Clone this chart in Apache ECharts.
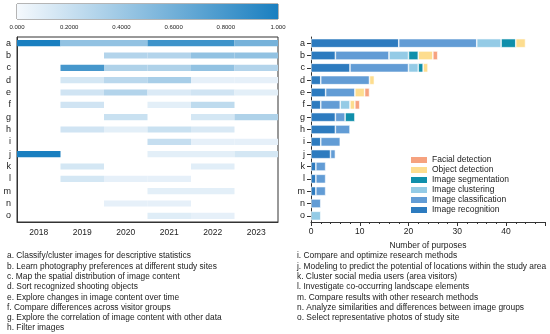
<!DOCTYPE html>
<html><head><meta charset="utf-8">
<script src="https://cdn.jsdelivr.net/npm/echarts@6/dist/echarts.min.js"></script>
<style>html,body{margin:0;padding:0;background:#fff}#c{width:550px;height:334px}</style>
</head><body><div id="c"></div>
<script>
const years = ['2018','2019','2020','2021','2022','2023'];
const purposes = ['a','b','c','d','e','f','g','h','i','j','k','l','m','n','o'];
const colorbarTicks = [0, 0.2, 0.4, 0.6, 0.8, 1];
// heatmap share per purpose (rows) per year (cols); null = none
const heat_a = [1.00, 0.45, 0.45, 0.84, 0.84, 0.58];
const heat_b = [null, null, 0.30, 0.30, 0.45, 0.45];
const heat_c = [null, 0.80, 0.32, 0.32, 0.45, 0.30];
const heat_d = [null, 0.15, 0.27, 0.35, 0.07, 0.07];
const heat_e = [null, 0.17, 0.30, 0.12, 0.17, 0.08];
const heat_f = [null, 0.17, null, 0.08, 0.25, null];
const heat_g = [null, null, 0.20, null, 0.15, 0.32];
const heat_h = [null, 0.17, 0.08, 0.20, 0.13, null];
const heat_i = [null, null, null, 0.22, 0.07, 0.07];
const heat_j = [1.00, null, null, 0.08, 0.08, 0.15];
const heat_k = [null, 0.15, null, null, 0.09, null];
const heat_l = [null, 0.15, 0.07, 0.07, null, null];
const heat_m = [null, null, null, 0.08, 0.08, null];
const heat_n = [null, null, 0.07, 0.07, null, null];
const heat_o = [null, null, null, 0.10, 0.07, null];
const heatRows = [heat_a, heat_b, heat_c, heat_d, heat_e, heat_f, heat_g, heat_h, heat_i, heat_j, heat_k, heat_l, heat_m, heat_n, heat_o];

// counts per purpose a..o
const recognition    = [18, 5, 8, 2, 3, 2, 5, 5, 2, 4, 1, 1, 1, 0, 0];
const classification = [16, 11, 12, 10, 6, 4, 2, 3, 4, 1, 2, 2, 2, 2, 0];
const clustering     = [5, 4, 2, 0, 0, 2, 0, 0, 0, 0, 0, 0, 0, 0, 2];
const segmentation   = [3, 2, 1, 0, 0, 0, 2, 0, 0, 0, 0, 0, 0, 0, 0];
const objectDet      = [2, 3, 1, 1, 2, 1, 0, 0, 0, 0, 0, 0, 0, 0, 0];
const facialDet      = [0, 1, 0, 0, 1, 1, 0, 0, 0, 0, 0, 0, 0, 0, 0];
const seriesNames = ['Image recognition','Image classification','Image clustering','Image segmentation','Object detection','Facial detection'];
const seriesColors = ['#2d7bbf','#629cd5','#94cbe6','#0f8fab','#fddd8f','#f6a27f'];

const defsLeft = [
 'a. Classify/cluster images for descriptive statistics',
 'b. Learn photography preferences at different study sites',
 'c. Map the spatial distribution of image content',
 'd. Sort recognized shooting objects',
 'e. Explore changes in image content over time',
 'f. Compare differences across visitor groups',
 'g. Explore the correlation of image content with other data',
 'h. Filter images'];
const defsRight = [
 'i. Compare and optimize research methods',
 'j. Modeling to predict the potential of locations within the study area',
 'k. Cluster social media users (area visitors)',
 'l. Investigate co-occurring landscape elements',
 'm. Compare results with other research methods',
 'n. Analyze similarities and differences between image groups',
 'o. Select representative photos of study site'];

const FONT = 'Liberation Sans';
const TXT = '#222';
const LOW = '#f5f9fd', HIGH = '#1a7fc0';

const heatData = [];
heatRows.forEach((row, r) => row.forEach((v, c) => { if (v !== null) heatData.push([c, r, v]); }));

const countSeries = [recognition, classification, clustering, segmentation, objectDet, facialDet];

const chart = echarts.init(document.getElementById('c'), null, {renderer: 'canvas'});

const graphics = [];
defsLeft.forEach((t, i) => graphics.push({type:'text', left: 7, top: 252 + i*10.3, style:{text:t, font:'8.4px ' + FONT, fill: TXT}}));
defsRight.forEach((t, i) => graphics.push({type:'text', left: 297, top: 252 + i*10.3, style:{text:t, font:'8.4px ' + FONT, fill: TXT}}));

const option = {
  animation: false,
  textStyle: {fontFamily: FONT},
  grid: [
    {left: 17, top: 4, width: 261, height: 15, show: true, borderColor: '#444', borderWidth: 0.8, backgroundColor: 'transparent'},
    {left: 17, top: 37, width: 261, height: 185, show: true, borderColor: '#333', borderWidth: 1},
    {left: 311, top: 37, width: 234, height: 185}
  ],
  xAxis: [
    {gridIndex: 0, type: 'value', min: 0, max: 1, interval: 0.2,
     axisLine: {show: false}, axisTick: {show: false}, splitLine: {show: false},
     axisLabel: {fontSize: 6, color: TXT, margin: 5, fontFamily: FONT,
       formatter: v => (v === 0 || v === 1) ? v.toFixed(3) : v.toFixed(4)}},
    {gridIndex: 1, type: 'category', data: years,
     axisLine: {lineStyle: {color: '#333'}},
     axisTick: {alignWithLabel: true, length: 4, lineStyle: {color: '#333'}},
     axisLabel: {fontSize: 8.5, color: TXT, margin: 6, fontFamily: FONT}, splitLine: {show: false}},
    {gridIndex: 2, type: 'value', min: 0, max: 48, interval: 10,
     axisLine: {show: true, lineStyle: {color: '#333'}},
     axisTick: {show: true, length: 4, lineStyle: {color: '#333'}},
     minorTick: {show: true, splitNumber: 5, length: 2, lineStyle: {color: '#333'}},
     splitLine: {show: false},
     axisLabel: {fontSize: 8.5, color: TXT, margin: 5, fontFamily: FONT,
       formatter: v => (v % 10 === 0 && v <= 40) ? String(v) : ''},
     name: 'Number of purposes', nameLocation: 'middle', nameGap: 19,
     nameTextStyle: {fontSize: 8.5, color: TXT, fontFamily: FONT}}
  ],
  yAxis: [
    {gridIndex: 0, type: 'value', min: 0, max: 1, show: false},
    {gridIndex: 1, type: 'category', data: purposes, inverse: true,
     axisLine: {lineStyle: {color: '#333'}},
     axisTick: {alignWithLabel: true, length: 4, lineStyle: {color: '#333'}},
     axisLabel: {fontSize: 9, color: TXT, margin: 6, fontFamily: FONT}, splitLine: {show: false}},
    {gridIndex: 2, type: 'category', data: purposes, inverse: true,
     axisLine: {show: true, lineStyle: {color: '#333'}},
     axisTick: {show: true, alignWithLabel: true, length: 4, lineStyle: {color: '#333'}},
     axisLabel: {fontSize: 9, color: TXT, margin: 6, fontFamily: FONT}}
  ],
  visualMap: [{type: 'continuous', show: false, min: 0, max: 1, dimension: 2, seriesIndex: 1,
    inRange: {color: [LOW, HIGH]}}],
  legend: {
    orient: 'vertical', left: 409, top: 155, padding: 0, itemWidth: 18, itemHeight: 8, itemGap: 0,
    icon: 'rect', data: seriesNames.slice().reverse(),
    textStyle: {fontSize: 8.5, color: TXT, fontFamily: FONT, lineHeight: 10, padding: [0,0,0,-1]}
  },
  graphic: graphics,
  series: [
    {type: 'custom', xAxisIndex: 0, yAxisIndex: 0, silent: true,
     data: [[0, 0, 1, 1]],
     renderItem: (params, api) => {
       const p0 = api.coord([api.value(0), api.value(3)]);
       const p1 = api.coord([api.value(2), api.value(1)]);
       return {type: 'rect', shape: {x: p0[0], y: p0[1], width: p1[0]-p0[0], height: p1[1]-p0[1]},
         style: {fill: new echarts.graphic.LinearGradient(0, 0, 1, 0, [{offset: 0, color: LOW}, {offset: 1, color: HIGH}])}};
     }},
    {type: 'custom', xAxisIndex: 1, yAxisIndex: 1, data: heatData, encode: {x: 0, y: 1},
     renderItem: (params, api) => {
       const c = api.coord([api.value(0), api.value(1)]);
       const s = api.size([1, 1]);
       const w = s[0], h = s[1] * 0.5;
       return {type: 'rect', shape: {x: c[0] - w/2, y: c[1] - h/2, width: w, height: h},
         style: {fill: api.visual('color')}};
     }},
    ...countSeries.map((arr, i) => ({
      type: 'bar', name: seriesNames[i], stack: 'total', xAxisIndex: 2, yAxisIndex: 2,
      barWidth: 9, data: arr.map(v => v === 0 ? '-' : v),
      itemStyle: {color: seriesColors[i], borderColor: '#fff', borderWidth: 0.6}
    }))
  ]
};
chart.setOption(option);
</script></body></html>
